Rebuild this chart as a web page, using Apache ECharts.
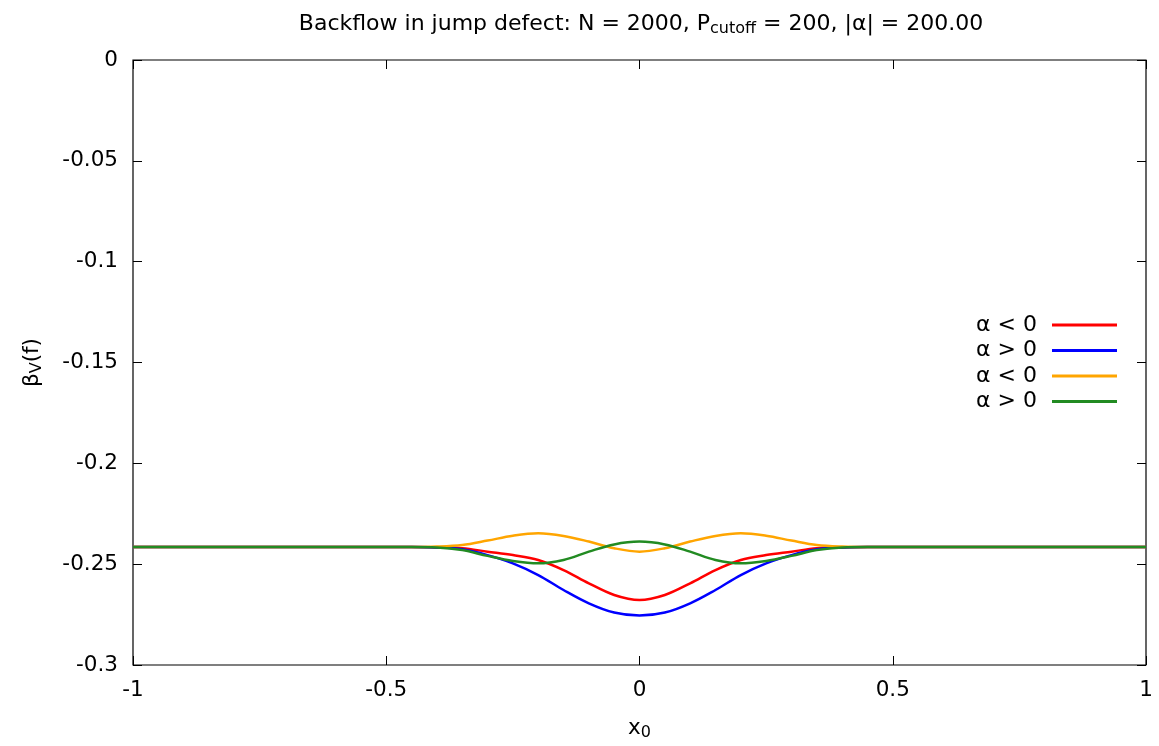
<!DOCTYPE html>
<html>
<head>
<meta charset="utf-8">
<script src="https://cdn.jsdelivr.net/npm/echarts@6/dist/echarts.min.js"></script>
<style>
  html, body { margin: 0; padding: 0; background: #fff; }
  #chart { width: 1159px; height: 746px; }
</style>
</head>
<body>
<div id="chart"></div>
<script>
const xValues = [-1, -0.45, -0.4, -0.35, -0.3, -0.25, -0.2, -0.15, -0.1, -0.05, 0,
  0.05, 0.1, 0.15, 0.2, 0.25, 0.3, 0.35, 0.4, 0.45, 1]
const redNeg = [-0.2415, -0.2415, -0.2417, -0.2421, -0.2438, -0.2455, -0.2479, -0.2529, -0.2595, -0.2653, -0.2678,
  -0.2653, -0.2595, -0.2529, -0.2479, -0.2455, -0.2438, -0.2421, -0.2417, -0.2415, -0.2415]
const bluePos = [-0.2415, -0.2415, -0.2417, -0.2426, -0.2455, -0.2496, -0.2554, -0.2628, -0.2694, -0.2740, -0.2755,
  -0.2740, -0.2694, -0.2628, -0.2554, -0.2496, -0.2455, -0.2426, -0.2417, -0.2415, -0.2415]
const orangeNeg = [-0.2415, -0.2415, -0.2413, -0.2405, -0.2383, -0.2359, -0.2347, -0.2360, -0.2388, -0.2421, -0.2438,
  -0.2421, -0.2388, -0.2360, -0.2347, -0.2359, -0.2383, -0.2405, -0.2413, -0.2415, -0.2415]
const greenPos = [-0.2415, -0.2415, -0.2417, -0.2430, -0.2459, -0.2484, -0.2496, -0.2479, -0.2438, -0.2402, -0.2388,
  -0.2402, -0.2438, -0.2479, -0.2496, -0.2484, -0.2459, -0.2430, -0.2417, -0.2415, -0.2415]

const seriesNames = ['α < 0', 'α > 0', 'α < 0 ', 'α > 0 ']
const seriesColors = ['#ff0000', '#0000ff', '#ffa500', '#228b22']
const seriesData = [redNeg, bluePos, orangeNeg, greenPos]

const font = 'DejaVu Sans'
const fs = 21.5

const chart = echarts.init(document.getElementById('chart'))

const axisCommon = {
  axisLine: { show: false, onZero: false },
  splitLine: { show: false },
  axisTick: { inside: true, length: 9, lineStyle: { color: '#000', width: 1 } }
}

const option = {
  animation: false,
  backgroundColor: '#fff',
  title: {
    text: 'Backflow in jump defect: N = 2000, P{s|cutoff} = 200, |α| = 200.00',
    left: 636,
    textAlign: 'center',
    top: 6,
    textStyle: {
      fontFamily: font, fontSize: 22, fontWeight: 'normal', color: '#000',
      rich: {
        s: { fontFamily: font, fontSize: 16, padding: [10, 0, 0, 0], color: '#000' }
      }
    }
  },
  grid: {
    left: 133, right: 13, top: 60, bottom: 81,
    outerBoundsMode: 'none',
    show: true, borderColor: '#000', borderWidth: 1.2
  },
  legend: {
    orient: 'vertical',
    right: 37,
    top: 309,
    align: 'right',
    icon: 'rect',
    itemWidth: 65,
    itemHeight: 3,
    itemGap: 3.5,
    data: seriesNames,
    formatter: n => n.trim(),
    textStyle: { fontFamily: font, fontSize: 22, color: '#000', lineHeight: 22, padding: [0, 10, 0, 0] }
  },
  xAxis: [{
    ...axisCommon,
    type: 'value', min: -1, max: 1, interval: 0.5,
    name: 'x{s|0}', nameLocation: 'middle', nameGap: 50,
    nameTextStyle: {
      fontFamily: font, fontSize: fs, color: '#000',
      rich: { s: { fontFamily: font, fontSize: 16, padding: [10, 0, 0, 0], color: '#000' } }
    },
    axisLabel: { fontFamily: font, fontSize: fs, color: '#000', margin: 14 }
  }, {
    ...axisCommon,
    type: 'value', min: -1, max: 1, interval: 0.5, position: 'top',
    axisLabel: { show: false }
  }],
  yAxis: [{
    ...axisCommon,
    type: 'value', min: -0.3, max: 0, interval: 0.05,
    name: 'β{s|V}(f)', nameLocation: 'middle', nameGap: 88, nameRotate: 90,
    nameTextStyle: {
      fontFamily: font, fontSize: fs, color: '#000',
      rich: { s: { fontFamily: font, fontSize: 16, padding: [10, 0, 0, 0], color: '#000' } }
    },
    axisLabel: { fontFamily: font, fontSize: fs, color: '#000', margin: 15 }
  }, {
    ...axisCommon,
    type: 'value', min: -0.3, max: 0, interval: 0.05, position: 'right',
    axisLabel: { show: false }
  }],
  series: seriesNames.map((name, i) => ({
    name,
    type: 'line',
    showSymbol: false,
    smooth: 0.35,
    color: seriesColors[i],
    lineStyle: { width: 2.5, color: seriesColors[i] },
    data: xValues.map((x, j) => [x, seriesData[i][j]])
  }))
}

chart.setOption(option)
</script>
</body>
</html>
